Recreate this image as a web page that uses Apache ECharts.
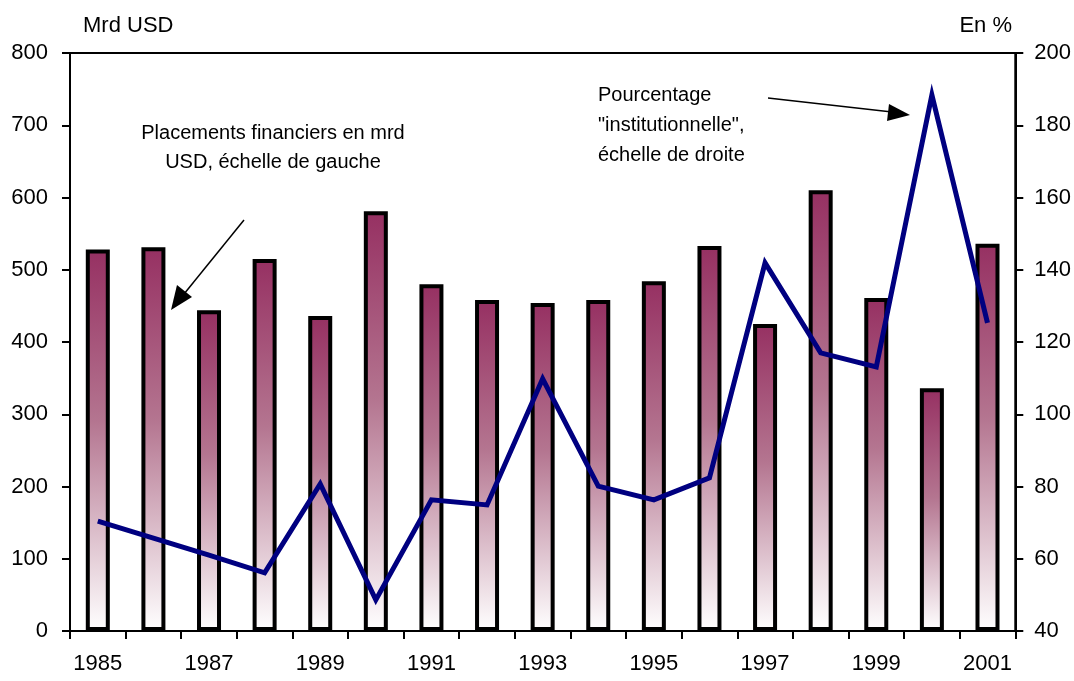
<!DOCTYPE html>
<html>
<head>
<meta charset="utf-8">
<script src="https://cdn.jsdelivr.net/npm/echarts@6/dist/echarts.min.js"></script>
<style>
  html, body { margin: 0; padding: 0; background: #ffffff; }
  #chart { width: 1074px; height: 681px; }
</style>
</head>
<body>
<div id="chart"></div>
<script>
// Years on the horizontal axis
const years = ['1985','1986','1987','1988','1989','1990','1991','1992','1993',
               '1994','1995','1996','1997','1998','1999','2000','2001'];
// Financial investments, billions of USD (left scale)
const placements = [528, 531, 444, 515, 436, 581, 480, 458, 454,
                    458, 484, 533, 425, 610, 461, 336, 536];
// "Institutional" share, percent (right scale)
const pourcentage = [70.4, 65.7, 61.0, 56.1, 80.7, 48.6, 76.3, 74.9, 109.8,
                     80.1, 76.3, 82.4, 141.9, 117.0, 113.1, 188.4, 125.3];
// Axis ranges and tick steps
const leftAxis = { min: 0, max: 800, interval: 100 };
const rightAxis = { min: 40, max: 200, interval: 20 };

const FONT = '"Liberation Sans Narrow", "Liberation Sans", Arial, sans-serif';

const chart = echarts.init(document.getElementById('chart'), null, { renderer: 'canvas' });

const option = {
  backgroundColor: '#ffffff',
  animation: false,
  textStyle: { fontFamily: FONT },
  grid: {
    left: 70, right: 57, top: 53, bottom: 50,
    show: true, borderColor: '#000000', borderWidth: 2, backgroundColor: 'transparent'
  },
  xAxis: {
    type: 'category',
    data: years,
    boundaryGap: true,
    axisLine: { lineStyle: { color: '#000000', width: 2 } },
    axisTick: { show: true, interval: 0, length: 8, lineStyle: { color: '#000000', width: 2 } },
    axisLabel: { interval: 1, color: '#000000', fontSize: 22, fontFamily: FONT, margin: 22 },
    splitLine: { show: false }
  },
  yAxis: [
    {
      type: 'value',
      position: 'left',
      min: leftAxis.min, max: leftAxis.max, interval: leftAxis.interval,
      axisLine: { show: true, lineStyle: { color: '#000000', width: 2 } },
      axisTick: { show: true, length: 8, lineStyle: { color: '#000000', width: 2 } },
      axisLabel: { color: '#000000', fontSize: 22, fontFamily: FONT, margin: 22 },
      splitLine: { show: false }
    },
    {
      type: 'value',
      position: 'right',
      min: rightAxis.min, max: rightAxis.max, interval: rightAxis.interval,
      axisLine: { show: true, lineStyle: { color: '#000000', width: 2 } },
      axisTick: { show: true, length: 8, lineStyle: { color: '#000000', width: 2 } },
      axisLabel: { color: '#000000', fontSize: 22, fontFamily: FONT, margin: 19 },
      splitLine: { show: false }
    }
  ],
  series: [
    {
      name: 'Placements financiers',
      type: 'bar',
      yAxisIndex: 0,
      data: placements,
      barWidth: 24,
      itemStyle: {
        color: new echarts.graphic.LinearGradient(0, 0, 0, 1, [
          { offset: 0, color: '#963062' },
          { offset: 0.45, color: '#b47590' },
          { offset: 1, color: '#ffffff' }
        ]),
        borderColor: '#000000',
        borderWidth: 4
      },
      z: 2
    },
    {
      name: 'Pourcentage institutionnelle',
      type: 'line',
      yAxisIndex: 1,
      data: pourcentage,
      showSymbol: false,
      symbol: 'none',
      lineStyle: { color: '#000080', width: 5, join: 'miter' },
      z: 3
    }
  ],
  graphic: [
    { type: 'text', left: 83, top: 15,
      style: { text: 'Mrd USD', fill: '#000000', font: '22px ' + FONT } },
    { type: 'text', right: 62, top: 15,
      style: { text: 'En %', fill: '#000000', font: '22px ' + FONT } },
    { type: 'text', x: 273, y: 119,
      style: { text: 'Placements financiers en mrd\nUSD, échelle de gauche', fill: '#000000',
               font: '20px ' + FONT, align: 'center', lineHeight: 29 } },
    { type: 'text', x: 598, y: 80,
      style: { text: 'Pourcentage\n"institutionnelle",\néchelle de droite', fill: '#000000',
               font: '20px ' + FONT, align: 'left', lineHeight: 30 } },
    // arrow toward the bars
    { type: 'line', shape: { x1: 244, y1: 220, x2: 184, y2: 294 },
      style: { stroke: '#000000', lineWidth: 1.5 } },
    { type: 'polygon', shape: { points: [[171, 310], [177, 285], [192, 297]] },
      style: { fill: '#000000' } },
    // arrow toward the line
    { type: 'line', shape: { x1: 768, y1: 98, x2: 892, y2: 112 },
      style: { stroke: '#000000', lineWidth: 1.5 } },
    { type: 'polygon', shape: { points: [[910, 115], [889, 104], [887, 121]] },
      style: { fill: '#000000' } }
  ]
};

chart.setOption(option);
</script>
</body>
</html>
